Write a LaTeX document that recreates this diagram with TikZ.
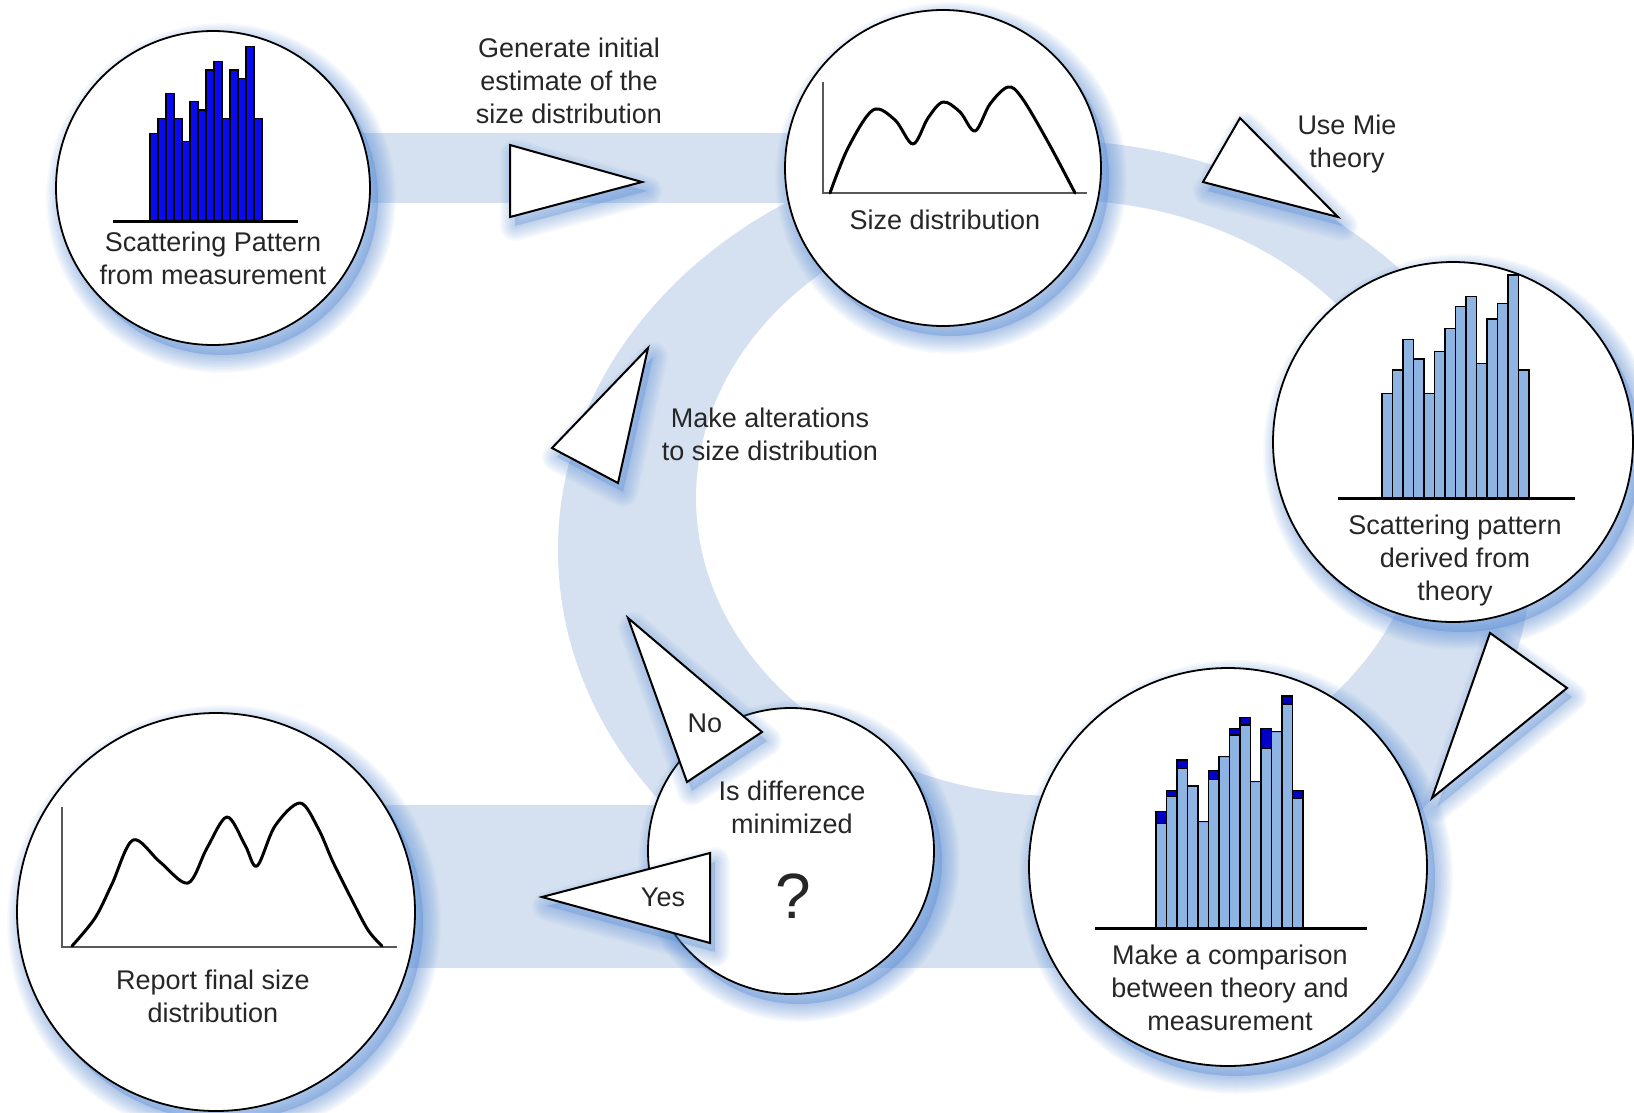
\documentclass[tikz,border=0pt]{standalone}
\usepackage{fontspec}
\setmainfont{Liberation Sans}
\definecolor{band}{HTML}{D5E1F1}
\definecolor{barD}{HTML}{0A0AF0}
\definecolor{barL}{HTML}{8DB4E2}
\definecolor{capc}{HTML}{0000C8}
\definecolor{shad}{HTML}{4F86D4}
\newcommand{\circshadow}[3]{%
  \foreach \w in {3,6,...,36}{%
    \draw[shad, opacity=0.045, line width=\w pt] (#1+8,#2+10) circle[radius=#3 pt];}
  \fill[shad, opacity=0.35] (#1+8,#2+10) circle[radius=#3 pt];}
\newcommand{\trishadow}[6]{%
  \begin{scope}[shift={(5,9)}]
  \foreach \w in {3,6,...,30}{%
    \draw[shad, opacity=0.04, line width=\w pt, line join=round] (#1,#2)--(#3,#4)--(#5,#6)--cycle;}
  \fill[shad, opacity=0.3] (#1,#2)--(#3,#4)--(#5,#6)--cycle;
  \end{scope}}
\tikzset{
  bubble/.style={circle, draw=black, line width=1.8pt, fill=white, inner sep=0pt},
  tri/.style={draw=black, line width=2pt, fill=white, line join=miter},
  lbl/.style={font=\fontsize{27}{33}\selectfont, align=center, text=black!85, inner sep=0pt},
  curve/.style={line width=3pt, line join=round, line cap=round},
  axisl/.style={line width=1.5pt, draw=black!65},
  baseln/.style={line width=3pt},
  barout/.style={draw=black, line width=1.3pt},
}
\begin{document}
\begin{tikzpicture}[x=1pt,y=-1pt]
\useasboundingbox (0,0) rectangle (1634,1112);
\fill[white] (0,0) rectangle (1634,1112);
% bands and ring
\fill[band] (213,133) rectangle (943,203);
\fill[band] (216,805) rectangle (1228,968);
\fill[band, even odd rule] (1045,550) ellipse [x radius=487pt, y radius=410pt]
                           (1060,498) ellipse [x radius=364pt, y radius=298pt];
% shadows of circles
\circshadow{213}{188}{157}
\circshadow{943}{168}{158}
\circshadow{1453}{442}{180}
\circshadow{1228}{867}{199}
\circshadow{216}{912}{199}
\circshadow{791}{851}{143}
% circles
\node[bubble, minimum size=314pt] (meas) at (213,188) {};
\node[bubble, minimum size=316pt] (sized) at (943,168) {};
\node[bubble, minimum size=360pt] (theo) at (1453,442) {};
\node[bubble, minimum size=398pt] (comp) at (1228,867) {};
\node[bubble, minimum size=398pt] (rep) at (216,912) {};
\node[bubble, minimum size=286pt] (dec) at (791,851) {};
% chart 1: measurement
\foreach \t [count=\i from 0] in {133.3,118.3,93.3,118.3,141.7,101.7,110,70,61.7,118.3,70,78.3,46.7,118.3}
  \draw[barout, fill=barD] ({150+8*\i},221) rectangle ({158+8*\i},\t);
\draw[baseln] (113,221) -- (298,221);
% chart 2: theory
\foreach \t [count=\i from 0] in {393.3,370,339.3,359,393.3,351.7,328.3,306.7,296.7,363.3,319,303.3,275,370}
  \draw[barout, fill=barL] ({1382+10.5*\i},498) rectangle ({1392.5+10.5*\i},\t);
\draw[baseln] (1338,498) -- (1575,498);
% chart 3: comparison
\foreach \t/\c [count=\i from 0] in {823.3/811.7,796.7/790.7,768.3/760,786/786,821.7/821.7,779.3/770.7,756.7/756.7,735/728.3,725/717.7,781.7/781.7,748.3/728.3,731.7/731.7,704/696,798.3/790.7}{
  \draw[barout, fill=barL] ({1156+10.5*\i},928) rectangle ({1166.5+10.5*\i},\t);
  \draw[barout, fill=capc] ({1156+10.5*\i},\t) rectangle ({1166.5+10.5*\i},\c);}
\draw[baseln] (1095,928) -- (1367,928);
% size distribution curve
\draw[axisl] (823,82) -- (823,193) -- (1087,193);
\draw[curve] plot[smooth, tension=0.55] coordinates {(830,193) (848,148) (873,110) (895,120) (913,144) (928,118) (943,102) (960,112) (975,131) (990,104) (1008,87) (1022,98) (1048,142) (1075,193)};
% report curve
\draw[axisl] (62,807) -- (62,947) -- (397,947);
\draw[curve] plot[smooth, tension=0.55] coordinates {(72,946) (95,918) (112,884) (133,840) (160,862) (188,883) (207,848) (227,817) (245,845) (257,866) (275,826) (300,803) (318,828) (333,862) (352,900) (368,930) (382,946)};
% arrowhead triangles
\trishadow{510}{145}{510}{217}{642}{182}
\trishadow{1240}{118}{1203}{182}{1338}{217}
\trishadow{1490}{633}{1567}{688}{1432}{798}
\trishadow{648}{348}{552}{448}{618}{483}
\trishadow{628}{618}{762}{732}{687}{782}
\trishadow{542}{897}{710}{853}{710}{943}
\coordinate (a1) at (510,145); \coordinate (a2) at (510,217); \coordinate (a3) at (642,182);
\coordinate (b1) at (1240,118); \coordinate (b2) at (1203,182); \coordinate (b3) at (1338,217);
\coordinate (c1) at (1490,633); \coordinate (c2) at (1567,688); \coordinate (c3) at (1432,798);
\coordinate (d1) at (648,348); \coordinate (d2) at (552,448); \coordinate (d3) at (618,483);
\coordinate (e1) at (628,618); \coordinate (e2) at (762,732); \coordinate (e3) at (687,782);
\coordinate (f1) at (542,897); \coordinate (f2) at (710,853); \coordinate (f3) at (710,943);
\draw[tri] (a1) -- (a2) -- (a3) -- cycle;
\draw[tri] (b1) -- (b2) -- (b3) -- cycle;
\draw[tri] (c1) -- (c2) -- (c3) -- cycle;
\draw[tri] (d1) -- (d2) -- (d3) -- cycle;
\draw[tri] (e1) -- (e2) -- (e3) -- cycle;
\draw[tri] (f1) -- (f2) -- (f3) -- cycle;
% labels
\node[lbl] (tgen) at (569,81) {Generate initial\\estimate of the\\size distribution};
\node[lbl] (tmeas) at (213,258) {Scattering Pattern\\from measurement};
\node[lbl] (tsize) at (945,220) {Size distribution};
\node[lbl] (tmie) at (1347,144) {Use Mie\\theory};
\node[lbl] (ttheo) at (1455,561) {Scattering pattern\\derived from\\theory};
\node[lbl] (talt) at (770,434) {Make alterations\\to size distribution};
\node[lbl] (tno) at (705,723) {No};
\node[lbl] (tdiff) at (792,807) {Is difference\\minimized};
\node[lbl, font=\fontsize{64}{70}\selectfont] (tq) at (793,896) {?};
\node[lbl] (tyes) at (663,897) {Yes};
\node[lbl] (trep) at (213,996) {Report final size\\distribution};
\node[lbl] (tcomp) at (1230,988) {Make a comparison\\between theory and\\measurement};
\end{tikzpicture}
\end{document}
